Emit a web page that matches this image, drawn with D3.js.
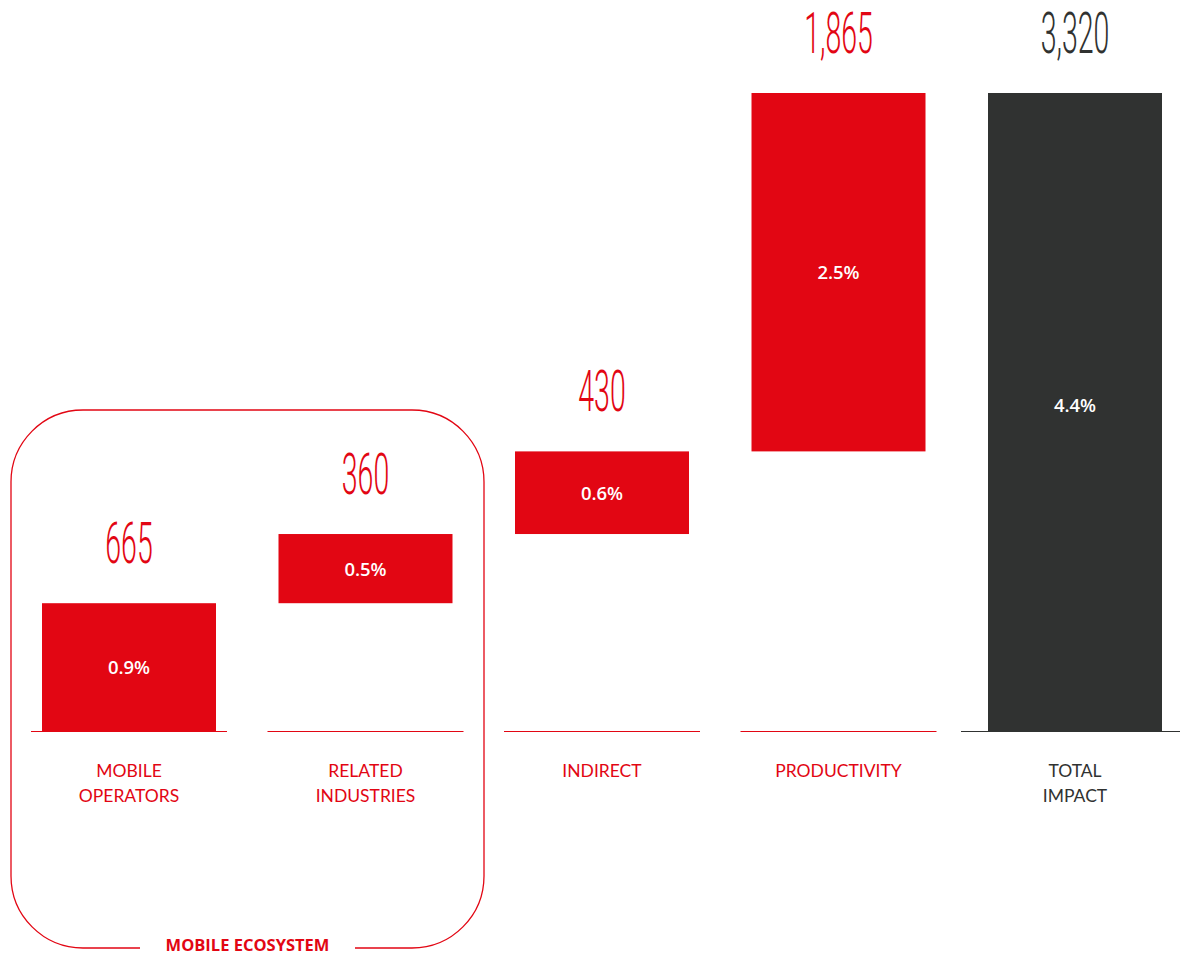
<!DOCTYPE html>
<html>
<head>
<meta charset="utf-8">
<script src="https://cdn.jsdelivr.net/npm/d3@7"></script>
<style>
  html, body { margin: 0; padding: 0; background: #ffffff; }
  svg { display: block; }
</style>
</head>
<body>
<svg id="chart" width="1180" height="956"></svg>
<script>
// Economic contribution, waterfall of components building up to the total
const categories = ["MOBILE\nOPERATORS", "RELATED\nINDUSTRIES", "INDIRECT", "PRODUCTIVITY", "TOTAL\nIMPACT"];
const values = [665, 360, 430, 1865, 3320];
const valueLabels = ["665", "360", "430", "1,865", "3,320"];
const shareLabels = ["0.9%", "0.5%", "0.6%", "2.5%", "4.4%"];
const isTotal = [false, false, false, false, true];
const groupLabel = "MOBILE ECOSYSTEM";

const RED = "#e20613";
const DARK = "#303231";

const svg = d3.select("#chart");

const x = d3.scaleBand()
  .domain(d3.range(categories.length))
  .range([42, 1162])
  .paddingInner(0.2643)
  .paddingOuter(0);

const y = d3.scaleLinear().domain([0, 3320]).range([731, 93]);

// running start/end of each step
let acc = 0;
const rows = values.map((v, i) => {
  let start, end;
  if (isTotal[i]) { start = 0; end = v; }
  else { start = acc; end = acc + v; acc = end; }
  return { i, v, start, end, cat: categories[i], label: valueLabels[i], share: shareLabels[i], total: isTotal[i] };
});

// Rounded frame around the ecosystem components
const frame = { x0: 11, x1: 484, y0: 410, y1: 948, r: 72 };
const gapL = 140, gapR = 355;
const fr = d3.path();
fr.moveTo(gapL, frame.y1);
fr.lineTo(frame.x0 + frame.r, frame.y1);
fr.arcTo(frame.x0, frame.y1, frame.x0, frame.y1 - frame.r, frame.r);
fr.lineTo(frame.x0, frame.y0 + frame.r);
fr.arcTo(frame.x0, frame.y0, frame.x0 + frame.r, frame.y0, frame.r);
fr.lineTo(frame.x1 - frame.r, frame.y0);
fr.arcTo(frame.x1, frame.y0, frame.x1, frame.y0 + frame.r, frame.r);
fr.lineTo(frame.x1, frame.y1 - frame.r);
fr.arcTo(frame.x1, frame.y1, frame.x1 - frame.r, frame.y1, frame.r);
fr.lineTo(gapR, frame.y1);
svg.append("path")
  .attr("d", fr.toString())
  .attr("fill", "none")
  .attr("stroke", RED)
  .attr("stroke-width", 1.3);

svg.append("text")
  .attr("x", (gapL + gapR) / 2)
  .attr("y", frame.y1 + 3)
  .attr("text-anchor", "middle")
  .attr("font-family", "'Open Sans', Lato, sans-serif")
  .attr("font-weight", 700)
  .attr("font-size", 16.5)
  .attr("fill", RED)
  .text(groupLabel);

// Baseline segments under each column
svg.selectAll("line.base")
  .data(rows)
  .join("line")
  .attr("class", "base")
  .attr("x1", d => d.total ? x(d.i) - 27 : x(d.i) - 11)
  .attr("x2", d => d.total ? 1180 : x(d.i) + x.bandwidth() + 11)
  .attr("y1", y(0) + 0.5)
  .attr("y2", y(0) + 0.5)
  .attr("stroke", d => d.total ? DARK : RED)
  .attr("stroke-width", 1.2);

// Bars
svg.selectAll("rect.bar")
  .data(rows)
  .join("rect")
  .attr("class", "bar")
  .attr("x", d => x(d.i))
  .attr("width", x.bandwidth())
  .attr("y", d => y(d.end))
  .attr("height", d => y(d.start) - y(d.end))
  .attr("fill", d => d.total ? DARK : RED);

// Share labels inside bars
svg.selectAll("text.share")
  .data(rows)
  .join("text")
  .attr("class", "share")
  .attr("x", d => x(d.i) + x.bandwidth() / 2)
  .attr("y", d => (y(d.start) + y(d.end)) / 2 + 7 - (d.total ? 7 : 0))
  .attr("text-anchor", "middle")
  .attr("font-family", "'Open Sans', Lato, sans-serif")
  .attr("font-weight", 600)
  .attr("font-size", 18.5)
  .attr("fill", "#ffffff")
  .text(d => d.share);

// Value labels above bars, tall condensed numerals
svg.selectAll("text.value")
  .data(rows)
  .join("text")
  .attr("class", "value")
  .attr("transform", d => `translate(${x(d.i) + x.bandwidth() / 2},${y(d.end) - 40}) scale(0.5,1)`)
  .attr("text-anchor", "middle")
  .attr("font-family", "Roboto, 'DejaVu Sans', sans-serif")
  .attr("font-weight", 300)
  .attr("font-size", 57)
  .attr("fill", d => d.total ? DARK : RED)
  .text(d => d.label);

// Category labels under the baseline
const cat = svg.selectAll("text.cat")
  .data(rows)
  .join("text")
  .attr("class", "cat")
  .attr("x", d => x(d.i) + x.bandwidth() / 2)
  .attr("y", 777)
  .attr("text-anchor", "middle")
  .attr("font-family", "Lato, 'Open Sans', sans-serif")
  .attr("font-size", 17.5)
  .attr("fill", d => d.total ? DARK : RED);
cat.selectAll("tspan")
  .data(d => d.cat.split("\n"))
  .join("tspan")
  .attr("x", function () { return d3.select(this.parentNode).attr("x"); })
  .attr("dy", (d, j) => j === 0 ? 0 : 25)
  .text(d => d);
</script>
</body>
</html>
